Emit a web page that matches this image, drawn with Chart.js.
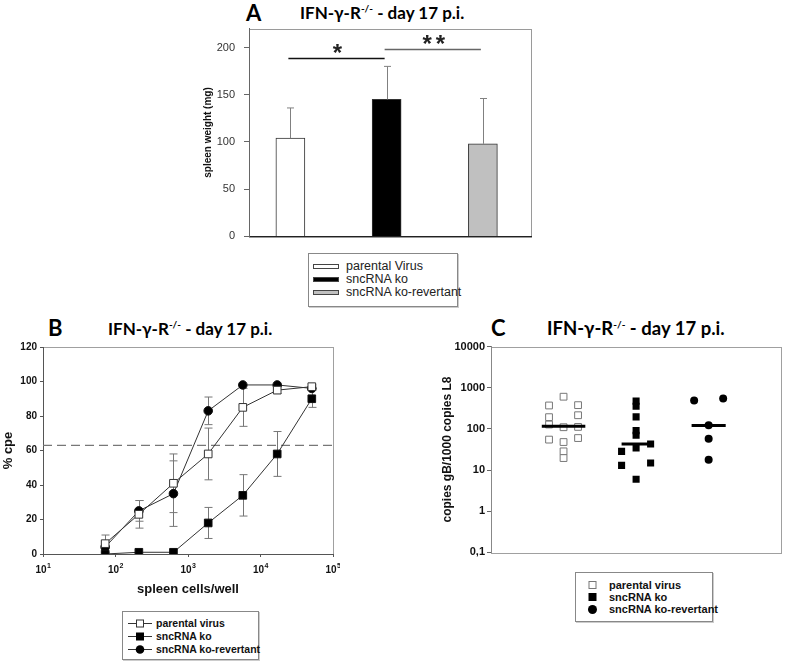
<!DOCTYPE html>
<html>
<head>
<meta charset="utf-8">
<script src="https://cdn.jsdelivr.net/npm/chart.js@4.4.0/dist/chart.umd.min.js"></script>
<style>
body { margin: 0; background: #fff; width: 787px; height: 661px; position: relative; overflow: hidden; font-family: "Liberation Sans", Arial, sans-serif; }
canvas { position: absolute; }
.lett { position: absolute; font-family: Lato, "Open Sans", sans-serif; font-weight: bold; font-size: 22px; line-height: 22px; }
.ttl { position: absolute; font-family: Lato, "Open Sans", sans-serif; font-weight: bold; font-size: 17px; line-height: 17px; white-space: nowrap; }
.ttl sup { font-size: 10px; vertical-align: top; position: relative; top: -4px; }
.leg { position: absolute; border: 1px solid #888; background: #fff; box-shadow: 1px 1px 0 #ccc; }
.row { position: absolute; white-space: nowrap; height: 13px; line-height: 13px; }
.row span { position: absolute; top: 0; }
.sw { position: absolute; top: 4px; width: 24px; height: 3px; border: 1px solid #444; }
svg { position: absolute; top: 1px; }
</style>
</head>
<body>

<div class="lett" style="left:246px;top:2px">A</div>
<div class="ttl" style="left:300px;top:4px">IFN-γ-R<sup>-/-</sup> - day 17 p.i.</div>
<canvas id="chartA" width="345" height="239" style="left:190px;top:13px"></canvas>
<div class="leg" style="left:308px;top:253px;width:148px;height:52px;font-size:12.5px;color:#222">
  <div class="row" style="top:6px;left:0"><div class="sw" style="left:4px;background:#fff"></div><span style="left:37px">parental Virus</span></div>
  <div class="row" style="top:19px;left:0"><div class="sw" style="left:4px;background:#000"></div><span style="left:37px">sncRNA ko</span></div>
  <div class="row" style="top:32px;left:0"><div class="sw" style="left:4px;background:#c0c0c0"></div><span style="left:37px">sncRNA ko-revertant</span></div>
</div>

<div class="lett" style="left:48px;top:317px">B</div>
<div class="ttl" style="left:108px;top:320px">IFN-γ-R<sup>-/-</sup> - day 17 p.i.</div>
<canvas id="chartB" width="340" height="263" style="left:0px;top:338px"></canvas>
<div class="leg" style="left:122px;top:611px;width:135px;height:47px;font-size:10.5px;font-weight:bold;color:#111">
  <div class="row" style="top:5px;left:0"><svg width="26" height="11" style="left:5px"><line x1="0" y1="5.5" x2="24" y2="5.5" stroke="#333"/><rect x="8.5" y="2" width="7" height="7" fill="#fff" stroke="#333"/></svg><span style="left:33px">parental virus</span></div>
  <div class="row" style="top:18px;left:0"><svg width="26" height="11" style="left:5px"><line x1="0" y1="5.5" x2="24" y2="5.5" stroke="#333"/><rect x="8" y="1.5" width="8" height="8" fill="#000"/></svg><span style="left:33px">sncRNA ko</span></div>
  <div class="row" style="top:31px;left:0"><svg width="26" height="11" style="left:5px"><line x1="0" y1="5.5" x2="24" y2="5.5" stroke="#333"/><circle cx="12" cy="5.5" r="4.3" fill="#000"/></svg><span style="left:33px">sncRNA ko-revertant</span></div>
</div>

<div class="lett" style="left:491px;top:317px">C</div>
<div class="ttl" style="left:547px;top:319px;font-size:18.5px;line-height:18px">IFN-γ-R<sup>-/-</sup> - day 17 p.i.</div>
<canvas id="chartC" width="357" height="223" style="left:430px;top:338px"></canvas>
<div class="leg" style="left:575px;top:572px;width:136px;height:48px;font-size:11px;font-weight:bold;color:#111">
  <div class="row" style="top:6px;left:0"><svg width="12" height="11" style="left:11px"><rect x="2" y="1.5" width="7" height="7" fill="#fff" stroke="#777"/></svg><span style="left:33px">parental virus</span></div>
  <div class="row" style="top:18px;left:0"><svg width="12" height="11" style="left:11px"><rect x="1.5" y="1" width="8" height="8" fill="#000"/></svg><span style="left:33px">sncRNA ko</span></div>
  <div class="row" style="top:30px;left:0"><svg width="12" height="11" style="left:11px"><circle cx="5.5" cy="5.5" r="4.5" fill="#000"/></svg><span style="left:33px">sncRNA ko-revertant</span></div>
</div>

<script>
// Panel A: spleen weight
const groupsA = ['parental Virus', 'sncRNA ko', 'sncRNA ko-revertant'];
const spleenWeight = [104, 145, 98];
const spleenErr = [32, 35, 48];
const yTicksA = [0, 50, 100, 150, 200];
const sigFrom = [1, 2];
const sigTo = [2, 3];
const sigLevel = [189, 198];
const sigLabel = ['*', '**'];

// Panel B: % cpe vs spleen cells/well
const cellsPerWell = [72, 210, 630, 1900, 5700, 17000, 51000];
const cpeParental = [6, 23, 41, 58, 85, 95, 97];
const cpeParentalErr = [5, 8, 17, 15, 11, 2, 1];
const cpeKo = [0, 1, 1, 18, 34, 58, 90];
const cpeKoErr = [0, 0, 0, 9, 12, 13, 5];
const cpeRev = [4, 25, 35, 83, 98, 98, 96];
const cpeRevErr = [3, 6, 19, 8, 0, 0, 0];
const cpeThreshold = 63;
const xTicksB = [10, 100, 1000, 10000, 100000];
const yTicksB = [0, 20, 40, 60, 80, 100, 120];

// Panel C: copies gB / 1000 copies L8
const copiesParental = [371, 193, 128, 55, 606, 110, 48, 28.5, 19.6, 378, 215, 112, 60];
const colParental = [-1, -1, -1, -1, 0, 0, 0, 0, 0, 1, 1, 1, 1];
const copiesKo = [28.5, 13, 473, 357, 196, 91, 70, 34.4, 6, 43, 14.8];
const colKo = [-1, -1, 0, 0, 0, 0, 0, 0, 0, 1, 1];
const copiesRev = [490, 123, 58, 17.9, 550];
const colRev = [-1, 0, 0, 0, 1];
const mediansC = [116, 43, 121];
const yTicksC = [0.1, 1, 10, 100, 1000, 10000];

const tickFont = { family: 'Liberation Sans', size: 10, weight: 'bold' };

// shared plugins
const frame = {
    id: 'frame',
    beforeDraw(chart, args, opts) {
        const { left, top, right, bottom } = chart.chartArea;
        const ctx = chart.ctx;
        ctx.save();
        ctx.strokeStyle = opts.color || '#999';
        ctx.lineWidth = 1;
        ctx.strokeRect(Math.round(left) + 0.5, Math.round(top) + 0.5, Math.round(right - left), Math.round(bottom - top));
        ctx.restore();
    }
};

const errorBars = {
    id: 'errorBars',
    beforeDatasetsDraw(chart, args, opts) {
        if (opts.after) return;
        drawErrors(chart, opts);
    },
    afterDatasetsDraw(chart, args, opts) {
        if (!opts.after) return;
        drawErrors(chart, opts);
    }
};

function drawErrors(chart, opts) {
    const ctx = chart.ctx;
    const yScale = chart.scales.y;
    ctx.save();
    ctx.strokeStyle = opts.color || '#777';
    ctx.lineWidth = 1;
    chart.data.datasets.forEach((ds, i) => {
        if (!ds.errors) return;
        const meta = chart.getDatasetMeta(i);
        meta.data.forEach((el, j) => {
            const e = ds.errors[j];
            if (!e) return;
            const d = ds.data[j];
            const v = typeof d === 'object' ? d.y : d;
            const x = Math.round(el.x) + 0.5;
            const yTop = yScale.getPixelForValue(v + e);
            const yBot = opts.upOnly ? yScale.getPixelForValue(v) : yScale.getPixelForValue(v - e);
            const cap = opts.cap || 3;
            ctx.beginPath();
            ctx.moveTo(x, yTop);
            ctx.lineTo(x, yBot);
            ctx.moveTo(x - cap, yTop);
            ctx.lineTo(x + cap, yTop);
            if (!opts.upOnly) {
                ctx.moveTo(x - cap, yBot);
                ctx.lineTo(x + cap, yBot);
            }
            ctx.stroke();
        });
    });
    ctx.restore();
}

function fixTicks(list) {
    return scale => { scale.ticks = list.map(v => ({ value: v })); };
}

// Panel A
new Chart(document.getElementById('chartA'), {
    type: 'bar',
    data: {
        datasets: [{
            label: 'spleen weight',
            data: spleenWeight.map((v, i) => ({ x: i + 1, y: v })),
            errors: spleenErr,
            backgroundColor: ['#ffffff', '#000000', '#c0c0c0'],
            borderColor: '#333',
            borderWidth: 1,
            barThickness: 29
        }]
    },
    options: {
        responsive: false,
        animation: false,
        layout: { padding: { top: 0, right: 4, bottom: 0, left: 0 } },
        plugins: {
            legend: { display: false },
            tooltip: { enabled: false },
            frame: { color: '#9a9a9a' },
            errorBars: { upOnly: true, after: true, cap: 3.5, color: '#808080' }
        },
        scales: {
            x: {
                type: 'linear', min: 0.57, max: 3.5, offset: false,
                ticks: { display: false },
                grid: { display: false },
                border: { color: '#222' },
                afterFit: s => { s.height = 0; }
            },
            y: {
                min: 0, max: 220,
                afterBuildTicks: fixTicks(yTicksA),
                ticks: { color: '#333', padding: 9, font: { family: 'Liberation Sans', size: 11 } },
                grid: { drawOnChartArea: false, tickLength: 5, color: '#666' },
                border: { color: '#666' },
                title: { display: true, text: 'spleen weight (mg)', color: '#111', padding: { top: 12, bottom: 0 }, font: { family: 'Liberation Sans', size: 10, weight: 'bold' } },
                afterFit: s => { s.width = 59; }
            }
        }
    },
    plugins: [frame, errorBars, {
        id: 'sig',
        afterDatasetsDraw(chart) {
            const ctx = chart.ctx;
            const xs = chart.scales.x, ys = chart.scales.y;
            ctx.save();
            sigLevel.forEach((lvl, i) => {
                const x1 = xs.getPixelForValue(sigFrom[i]);
                const x2 = xs.getPixelForValue(sigTo[i]);
                const y = Math.round(ys.getPixelForValue(lvl)) + 0.5;
                ctx.strokeStyle = i === 0 ? '#111' : '#666';
                ctx.lineWidth = 1.3;
                ctx.beginPath();
                ctx.moveTo(x1 - 2, y);
                ctx.lineTo(x2 - 2, y);
                ctx.stroke();
                ctx.fillStyle = '#222';
                ctx.font = 'bold 24px "Liberation Sans"';
                ctx.letterSpacing = '4px';
                ctx.textAlign = 'center';
                ctx.textBaseline = 'alphabetic';
                ctx.fillText(sigLabel[i], (x1 + x2) / 2 + 1, y + 2);
            });
            ctx.restore();
        }
    }]
});

// Panel B
const toPoints = ys => cellsPerWell.map((x, i) => ({ x: x, y: ys[i] }));
const lineStyle = { showLine: true, borderColor: '#333', borderWidth: 1, pointBorderWidth: 1 };

new Chart(document.getElementById('chartB'), {
    type: 'scatter',
    data: {
        datasets: [
            Object.assign({ label: 'sncRNA ko', data: toPoints(cpeKo), errors: cpeKoErr, pointStyle: 'rect', pointRadius: 5.4, pointBackgroundColor: '#000', pointBorderColor: '#111' }, lineStyle),
            Object.assign({ label: 'parental virus', data: toPoints(cpeParental), errors: cpeParentalErr, pointStyle: 'rect', pointRadius: 5.4, pointBackgroundColor: '#fff', pointBorderColor: '#333' }, lineStyle),
            Object.assign({ label: 'sncRNA ko-revertant', data: toPoints(cpeRev), errors: cpeRevErr, pointStyle: 'circle', pointRadius: 4.3, pointBackgroundColor: '#000', pointBorderColor: '#111' }, lineStyle)
        ]
    },
    options: {
        responsive: false,
        animation: false,
        layout: { padding: { top: 0, right: 7, bottom: 0, left: 0 } },
        plugins: {
            legend: { display: false },
            tooltip: { enabled: false },
            frame: { color: '#a0a0a0' },
            errorBars: { cap: 4, color: '#777' }
        },
        scales: {
            x: {
                type: 'logarithmic', min: 10, max: 100000,
                afterBuildTicks: fixTicks(xTicksB),
                ticks: { display: false },
                grid: { drawOnChartArea: false, tickLength: 3, color: '#555' },
                border: { color: '#555' },
                title: { display: true, text: 'spleen cells/well', color: '#111', padding: { top: 0, bottom: 4 }, font: { family: 'Liberation Sans', size: 13, weight: 'bold' } },
                afterFit: s => { s.height = 47; }
            },
            y: {
                min: 0, max: 120,
                afterBuildTicks: fixTicks(yTicksB),
                ticks: { color: '#111', padding: 3, font: tickFont },
                grid: { drawOnChartArea: false, tickLength: 3, color: '#555' },
                border: { color: '#555' },
                title: { display: true, text: '% cpe', color: '#111', padding: { top: 1, bottom: 0 }, font: { family: 'Liberation Sans', size: 13, weight: 'bold' } },
                afterFit: s => { s.width = 43; }
            }
        }
    },
    plugins: [frame, errorBars, {
        id: 'threshold',
        beforeDatasetsDraw(chart) {
            const ctx = chart.ctx;
            const { left, right } = chart.chartArea;
            const y = chart.scales.y.getPixelForValue(cpeThreshold);
            ctx.save();
            ctx.strokeStyle = '#777';
            ctx.lineWidth = 1.3;
            ctx.setLineDash([9, 5]);
            ctx.beginPath();
            ctx.moveTo(left, y);
            ctx.lineTo(right, y);
            ctx.stroke();
            ctx.restore();
        }
    }, {
        // power-of-ten tick labels with a raised exponent
        id: 'powerTicks',
        afterDraw(chart) {
            const ctx = chart.ctx;
            const xs = chart.scales.x;
            ctx.save();
            ctx.fillStyle = '#111';
            ctx.textAlign = 'left';
            ctx.textBaseline = 'alphabetic';
            xTicksB.forEach(v => {
                const x = xs.getPixelForValue(v);
                const exp = String(Math.round(Math.log10(v)));
                ctx.font = 'bold 10px "Liberation Sans"';
                const w1 = ctx.measureText('10').width;
                ctx.font = 'bold 7px "Liberation Sans"';
                const w2 = ctx.measureText(exp).width;
                const x0 = x - (w1 + w2) / 2;
                ctx.font = 'bold 10px "Liberation Sans"';
                ctx.fillText('10', x0, xs.top + 18.5);
                ctx.font = 'bold 7px "Liberation Sans"';
                ctx.fillText(exp, x0 + w1 + 0.5, xs.top + 13.5);
            });
            ctx.restore();
        }
    }]
});

// Panel C
const spread = 0.2;
const toGroup = (vals, cols, g) => vals.map((v, i) => ({ x: g + cols[i] * spread, y: v }));
const medianHalf = [0.3, 0.2, 0.235];

new Chart(document.getElementById('chartC'), {
    type: 'scatter',
    data: {
        datasets: [
            { label: 'parental virus', data: toGroup(copiesParental, colParental, 1), pointStyle: 'rect', pointRadius: 4.8, pointBackgroundColor: '#fff', pointBorderColor: '#777', pointBorderWidth: 1 },
            { label: 'sncRNA ko', data: toGroup(copiesKo, colKo, 2), pointStyle: 'rect', pointRadius: 5, pointBackgroundColor: '#000', pointBorderColor: '#000', pointBorderWidth: 0 },
            { label: 'sncRNA ko-revertant', data: toGroup(copiesRev, colRev, 3), pointStyle: 'circle', pointRadius: 4, pointBackgroundColor: '#000', pointBorderColor: '#000', pointBorderWidth: 0 }
        ]
    },
    options: {
        responsive: false,
        animation: false,
        layout: { padding: { top: 0, right: 3, bottom: 0, left: 0 } },
        plugins: {
            legend: { display: false },
            tooltip: { enabled: false },
            frame: { color: '#a0a0a0' }
        },
        scales: {
            x: {
                type: 'linear', min: 0, max: 4,
                display: false
            },
            y: {
                type: 'logarithmic', min: 0.1, max: 10000,
                afterBuildTicks: fixTicks(yTicksC),
                ticks: { color: '#111', padding: 2, font: { family: 'Liberation Sans', size: 11, weight: 'bold' }, callback: v => String(v).replace('.', ',') },
                grid: { drawOnChartArea: false, tickLength: 4, color: '#666' },
                border: { color: '#888' },
                title: { display: true, text: 'copies gB/1000 copies L8', color: '#111', padding: { top: 10, bottom: 0 }, font: { family: 'Liberation Sans', size: 12, weight: 'bold' } },
                afterFit: s => { s.width = 61; }
            }
        }
    },
    plugins: [frame, {
        id: 'medians',
        afterDatasetsDraw(chart) {
            const ctx = chart.ctx;
            const xs = chart.scales.x, ys = chart.scales.y;
            ctx.save();
            ctx.strokeStyle = '#000';
            ctx.lineWidth = 3;
            mediansC.forEach((m, i) => {
                const y = ys.getPixelForValue(m);
                ctx.beginPath();
                ctx.moveTo(xs.getPixelForValue(i + 1 - medianHalf[i]), y);
                ctx.lineTo(xs.getPixelForValue(i + 1 + medianHalf[i]), y);
                ctx.stroke();
            });
            ctx.restore();
        }
    }]
});
</script>
</body>
</html>
